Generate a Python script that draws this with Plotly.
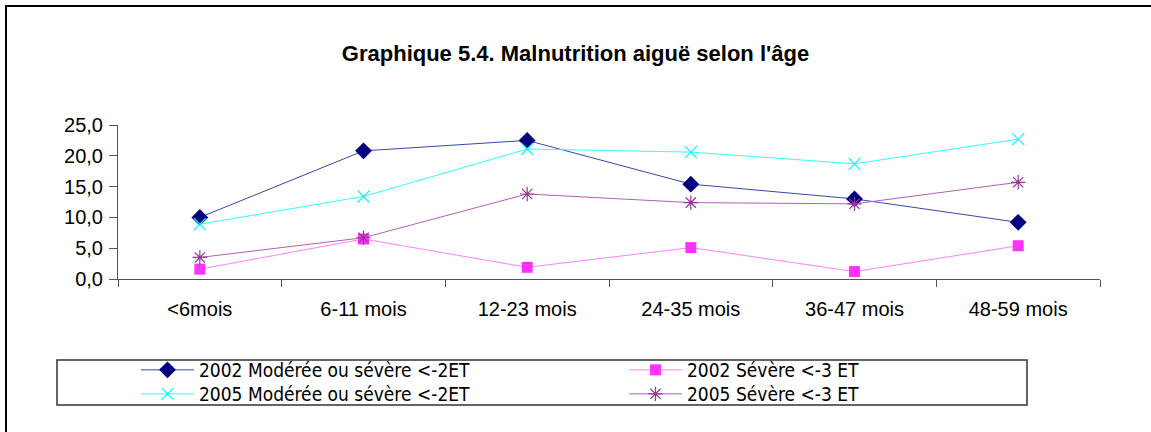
import plotly.graph_objects as go

categories = ["<6mois", "6-11 mois", "12-23 mois", "24-35 mois", "36-47 mois", "48-59 mois"]
mod_2002 = [10.0, 20.8, 22.5, 15.4, 13.0, 9.2]
sev_2002 = [1.6, 6.5, 1.9, 5.1, 1.2, 5.4]
mod_2005 = [8.9, 13.4, 21.1, 20.6, 18.7, 22.7]
sev_2005 = [3.5, 6.7, 13.8, 12.4, 12.2, 15.7]
series_names = ["2002 Modérée ou sévère <-2ET", "2002 Sévère <-3 ET",
                "2005 Modérée ou sévère <-2ET", "2005 Sévère <-3 ET"]
y_ticks = [0, 5, 10, 15, 20, 25]

W, H = 1151, 432
L, R, T, B = 118, 1100, 125, 279
def px(x):
    return (x - L) / (R - L)
def py(y):
    return (B - y) / (B - T)

fig = go.Figure()
fig.add_trace(go.Scatter(x=categories, y=mod_2002, name=series_names[0], mode="lines+markers",
                         legend="legend",
                         line=dict(color="#3847a8", width=1),
                         marker=dict(symbol="diamond", size=13, color="#000080")))
fig.add_trace(go.Scatter(x=categories, y=sev_2002, name=series_names[1], mode="lines+markers",
                         legend="legend",
                         line=dict(color="#ff80ff", width=1),
                         marker=dict(symbol="square", size=11, color="#ff33ff")))
fig.add_trace(go.Scatter(x=categories, y=mod_2005, name=series_names[2], mode="lines+markers",
                         legend="legend2",
                         line=dict(color="#33ffff", width=1),
                         marker=dict(symbol="x-thin-open", size=12, color="#00ffff",
                                     line=dict(color="#00ffff", width=1.2))))
fig.add_trace(go.Scatter(x=categories, y=sev_2005, name=series_names[3], mode="lines+markers",
                         legend="legend2",
                         line=dict(color="#b060b8", width=1),
                         marker=dict(symbol="asterisk-open", size=12, color="#993399",
                                     line=dict(color="#993399", width=1.2))))

legend_common = dict(orientation="h", x=px(136), xanchor="left", yanchor="top",
                     bgcolor="rgba(0,0,0,0)", borderwidth=0,
                     entrywidth=420, entrywidthmode="pixels", itemwidth=53,
                     font=dict(family="DejaVu Sans Condensed, DejaVu Sans, sans-serif", size=19, color="black"),
                     traceorder="normal")

fig.update_layout(
    width=W, height=H,
    margin=dict(l=L, r=W - R, t=T, b=H - B, pad=0, autoexpand=False),
    paper_bgcolor="white", plot_bgcolor="white",
    separators=", ",
    font=dict(family="Liberation Sans, Arial, sans-serif", size=20, color="black"),
    title=dict(text="<b>Graphique 5.4. Malnutrition aiguë selon l'âge</b>",
               x=0.5, xref="container", xanchor="center",
               y=1 - 53 / H, yref="container", yanchor="middle",
               font=dict(family="Liberation Sans, Arial, sans-serif", size=22, color="black")),
    showlegend=True,
    legend=dict(legend_common, y=py(351)),
    legend2=dict(legend_common, y=py(375)),
    xaxis=dict(type="category", showgrid=False, showline=True, linecolor="#555555", linewidth=1,
               ticks="outside", ticklen=7, tickcolor="#555555", tickson="boundaries",
               ticklabelstandoff=12, range=[-0.5, 5.5], zeroline=False),
    yaxis=dict(range=[0, 25], tickvals=y_ticks, tickformat=".1f", showgrid=False, showline=True,
               linecolor="#555555", linewidth=1, ticks="outside", ticklen=8, tickcolor="#555555",
               ticklabelstandoff=2, zeroline=False),
    shapes=[
        dict(type="rect", xref="paper", yref="paper", x0=px(6), x1=px(1170), y0=py(6), y1=py(450),
             line=dict(color="black", width=2), fillcolor="rgba(0,0,0,0)", layer="below"),
        dict(type="rect", xref="paper", yref="paper", x0=px(57), x1=px(1027), y0=py(360), y1=py(405),
             line=dict(color="#333333", width=1.5), fillcolor="rgba(0,0,0,0)", layer="below"),
    ],
)

fig.write_html("out.html", config={"displayModeBar": False},
               post_script="document.body.style.margin='0';")
